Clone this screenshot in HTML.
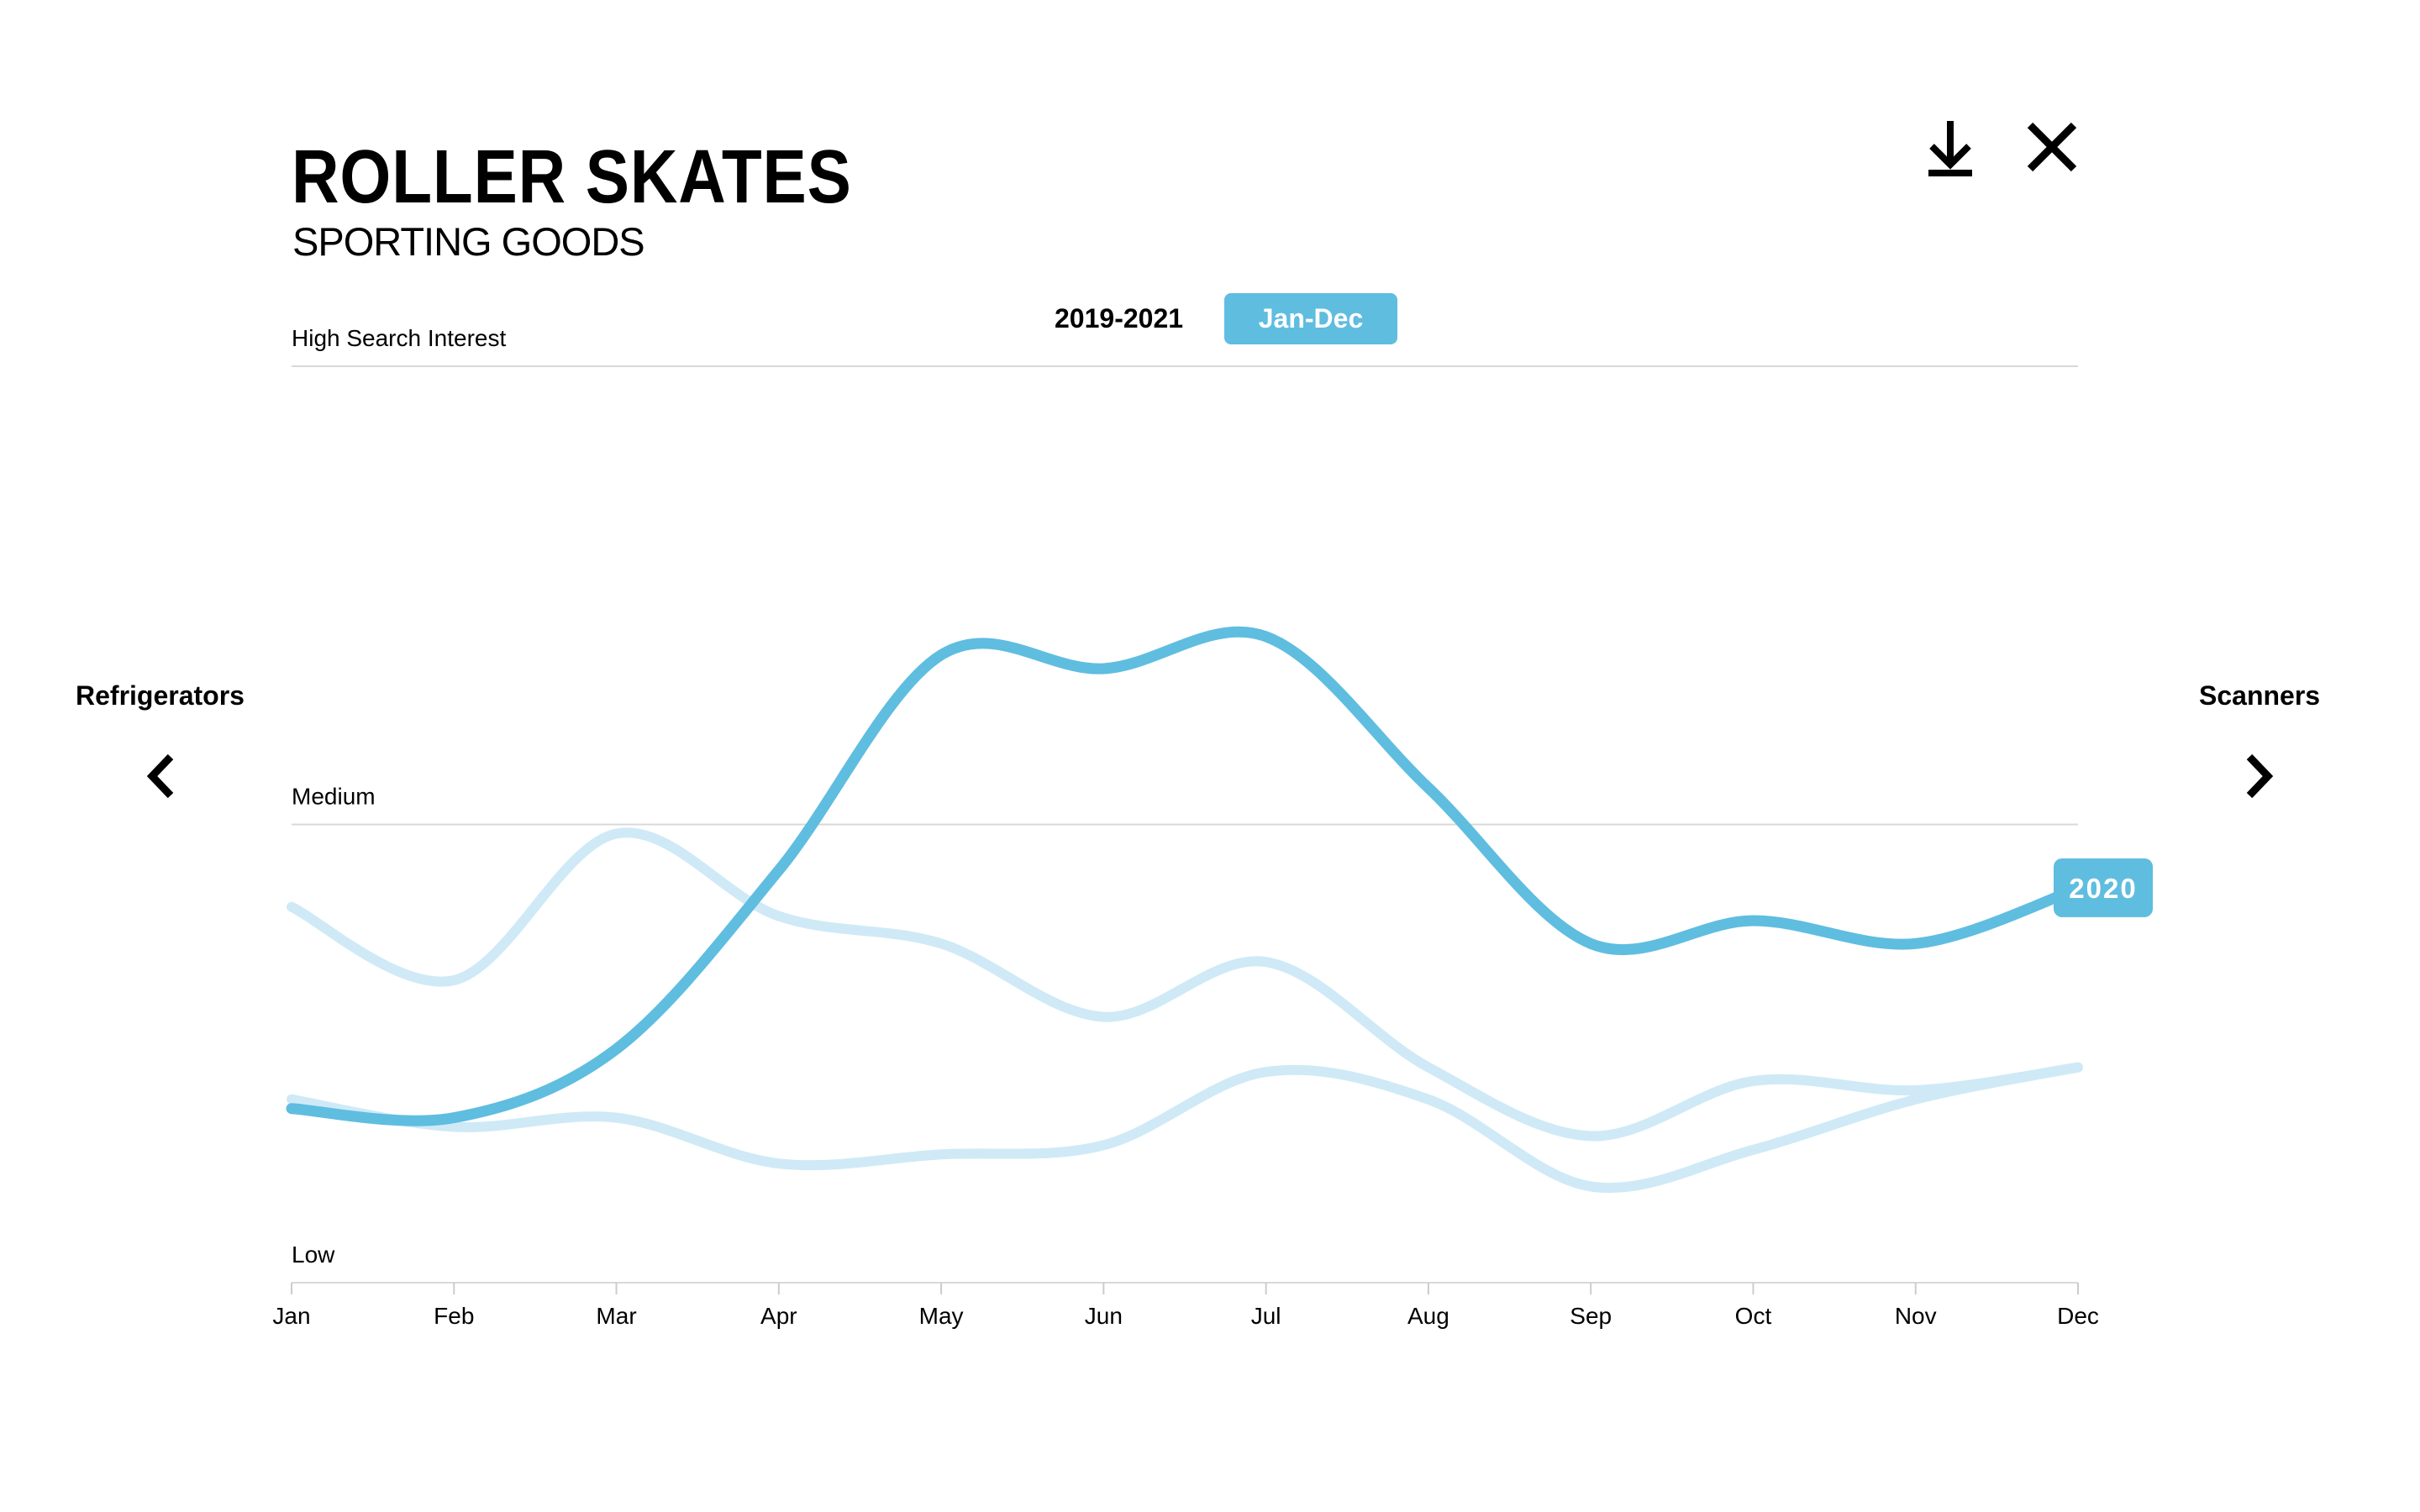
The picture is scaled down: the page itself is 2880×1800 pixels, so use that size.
<!DOCTYPE html>
<html><head><meta charset="utf-8"><style>
body{margin:0;width:2880px;height:1800px;background:#fff;font-family:"Liberation Sans",sans-serif;overflow:hidden;position:relative}
.t{position:absolute;white-space:nowrap}
</style></head><body>
<div class="t" style="left:347px;top:160px;font-size:90px;font-weight:bold;letter-spacing:1px;transform:scaleX(0.87);transform-origin:0 0">ROLLER SKATES</div>
<div class="t" style="left:348px;top:260px;font-size:47px;letter-spacing:-1px">SPORTING GOODS</div>
<div class="t" style="left:1255px;top:361px;font-size:32px;font-weight:bold">2019-2021</div>
<div class="t" style="left:1457px;top:349px;width:206px;height:61px;background:#5fbde0;border-radius:8px;color:#fff;font-size:32px;font-weight:bold;text-align:center;line-height:61px">Jan-Dec</div>
<div class="t" style="left:90px;top:810px;font-size:32px;font-weight:bold">Refrigerators</div>
<div class="t" style="left:2617px;top:810px;font-size:32px;font-weight:bold">Scanners</div>
<svg width="2880" height="1800" style="position:absolute;left:0;top:0">
<g stroke="#000" stroke-width="8" fill="none"><path d="M2321 144V195M2299 174L2321 196L2343 174M2295 206H2347"/></g>
<g stroke="#000" stroke-width="9"><path d="M2416 149L2468 201M2468 149L2416 201"/></g>
<path d="M203 901L181 924L203 947" stroke="#000" stroke-width="9" fill="none"/>
<path d="M2677 901L2699 924L2677 947" stroke="#000" stroke-width="9" fill="none"/>
<g id="chart"></g>
</svg>
<script>
const months=["Jan","Feb","Mar","Apr","May","Jun","Jul","Aug","Sep","Oct","Nov","Dec"];
const levelLabels=["Low","Medium","High Search Interest"];
const series2020=[0.38,0.36,0.51,0.90,1.37,1.34,1.41,1.08,0.74,0.79,0.74,0.86];
const series2019=[0.82,0.66,0.98,0.80,0.74,0.58,0.70,0.47,0.32,0.44,0.42,0.47];
const series2021=[0.40,0.34,0.36,0.26,0.28,0.30,0.46,0.40,0.21,0.29,0.40,0.47];
const X0=347,X1=2473,Y0=1527,Y2=436;
const x=i=>X0+(X1-X0)*i/(months.length-1);
const y=v=>Y0-(Y0-Y2)*v/2;
const g=document.getElementById('chart');
const NS='http://www.w3.org/2000/svg';
function mk(t,a){const e=document.createElementNS(NS,t);for(const k in a)e.setAttribute(k,a[k]);g.appendChild(e);return e;}
levelLabels.forEach((l,i)=>{
 const ln=mk('line',{x1:X0,x2:X1,y1:y(i),y2:y(i),stroke:'#d8d8d8','stroke-width':2});
 
 
 const t=mk('text',{x:X0,y:y(i)-24,'font-size':28,'font-family':'Liberation Sans'});t.textContent=l;
 
 
});
months.forEach((m,i)=>{
 const tk=mk('line',{x1:x(i),x2:x(i),y1:Y0,y2:Y0+14,stroke:'#ccc','stroke-width':2});
 
 
 const t=mk('text',{x:x(i),y:Y0+49,'font-size':28,'text-anchor':'middle','font-family':'Liberation Sans'});t.textContent=m;
 
 
});
function path(vals){
 const p=vals.map((v,i)=>[x(i),y(v)]);
 let d='M'+p[0][0]+' '+p[0][1];
 for(let i=0;i<p.length-1;i++){
  const a=p[i-1]||p[i],b=p[i],c=p[i+1],e=p[i+2]||c;
  d+=` C${b[0]+(c[0]-a[0])/6} ${b[1]+(c[1]-a[1])/6} ${c[0]-(e[0]-b[0])/6} ${c[1]-(e[1]-b[1])/6} ${c[0]} ${c[1]}`;
 }
 return d;
}
[[series2019,'line-2019'],[series2021,'line-2021']].forEach(([s,n])=>{
 const p=mk('path',{d:path(s),fill:'none',stroke:'#cfeaf6','stroke-width':12,'stroke-linecap':'round'});
 
 
});
const main=mk('path',{d:path(series2020),fill:'none',stroke:'#5fbde0','stroke-width':13,'stroke-linecap':'round'});


const by=y(series2020[11]);
const bg=mk('rect',{x:2444,y:by-36,width:118,height:70,rx:10,fill:'#5fbde0'});


const bt=mk('text',{x:2503,y:by+11,'font-size':33,'font-weight':'bold',fill:'#fff','text-anchor':'middle','font-family':'Liberation Sans','letter-spacing':2});bt.textContent='2020';


</script>
</body></html>
